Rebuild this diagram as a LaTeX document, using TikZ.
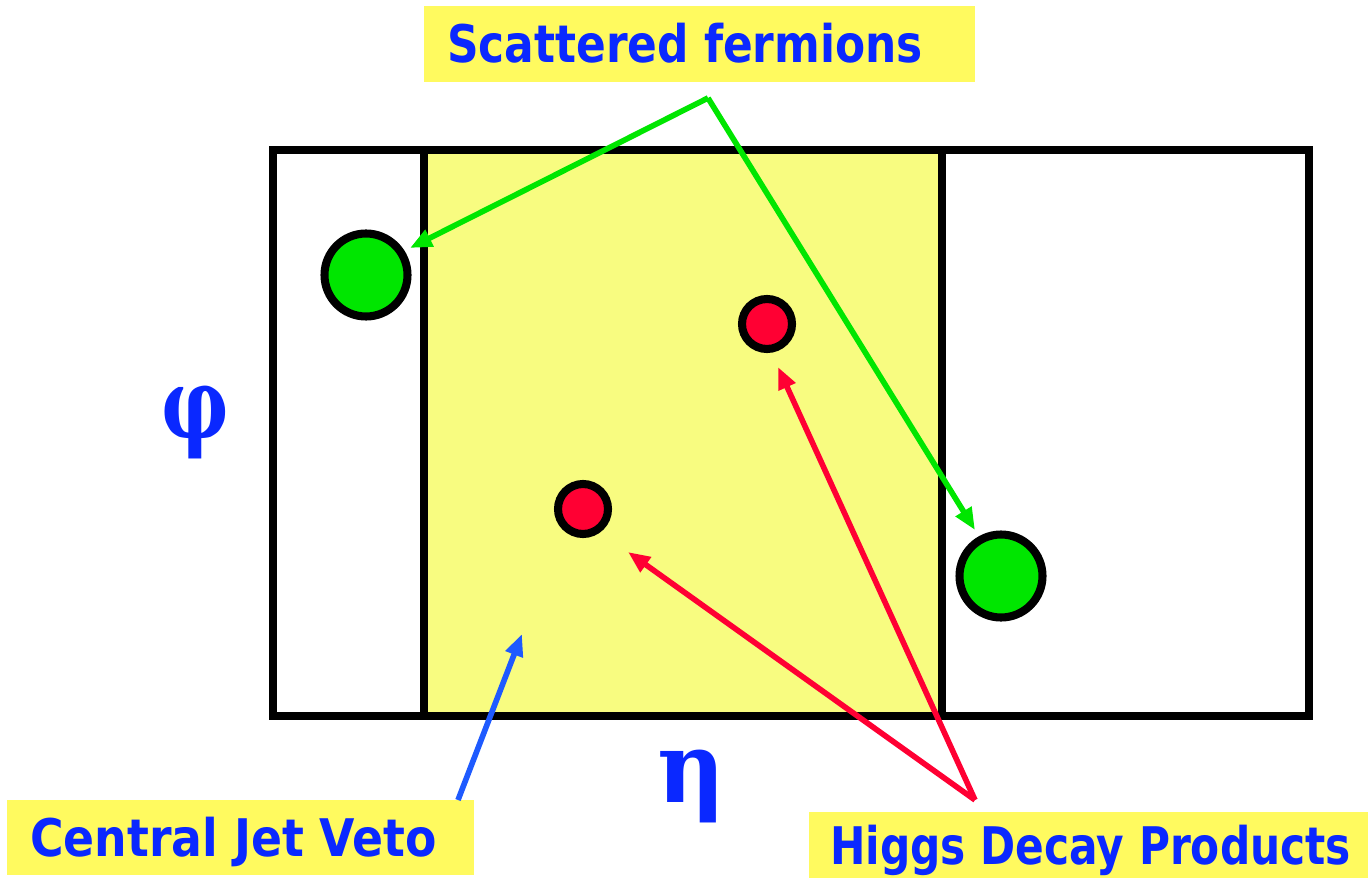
\documentclass[tikz,border=0pt]{standalone}
\usepackage{fontspec}
\setmainfont{DejaVu Sans}
\newfontfamily\lblfont{DejaVu Sans Bold}
\newfontfamily\greekfont{DejaVu Serif Bold}
\usetikzlibrary{arrows.meta,calc}
\definecolor{txtblue}{RGB}{10,40,255}
\definecolor{zoneyellow}{RGB}{248,252,128}
\definecolor{lblyellow}{RGB}{255,250,95}
\definecolor{fgreen}{RGB}{0,230,0}
\definecolor{hred}{RGB}{255,0,51}
\definecolor{arrblue}{RGB}{30,90,255}
\newcommand\fitw[2]{\resizebox{#1}{\height}{#2}}
\tikzset{
  frame/.style={line width=4.5pt, draw=black},
  fermion/.style={circle, draw=black, fill=fgreen, line width=4.6pt, minimum size=1.66cm, inner sep=0pt},
  higgs/.style={circle, draw=black, fill=hred, line width=4.6pt, minimum size=1.0cm, inner sep=0pt},
  lbox/.style={fill=lblyellow, text=txtblue, inner ysep=0pt, text height=0.76cm, text depth=0pt,
    font=\lblfont\fontsize{29.5pt}{32pt}\selectfont},
  glyph/.style={text=txtblue, inner sep=0pt, font=\greekfont\fontsize{56pt}{60pt}\selectfont},
  conn/.style={line width=3.2pt, -{Triangle[length=12.5pt,width=10pt]}},
}
\begin{document}
\begin{tikzpicture}[x=0.02cm,y=-0.02cm]
\useasboundingbox (0,0) rectangle (1368,878);
% zones
\fill[zoneyellow] (424,150) rectangle (942,716);
\draw[frame] (273,150) rectangle (1309,716);
\draw[frame] (424,150) -- (424,716);
\draw[frame] (942,150) -- (942,716);
% particles
\node[fermion] (f1) at (366,275) {};
\node[fermion] (f2) at (1001,576) {};
\node[higgs] (h1) at (767,324) {};
\node[higgs] (h2) at (583,509) {};
% axis labels
\node[glyph] (phi) at (195,422) {\scalebox{0.76}[1]{φ}};
\node[glyph] (eta) at (691,786) {\scalebox{0.95}[1]{η}};
% label boxes
\node[lbox, minimum height=1.52cm, inner xsep=0.46cm] (sf) at (699.5,44)
  {\makebox[10.1cm][l]{\fitw{9.52cm}{Scattered fermions}}};
\node[lbox, minimum height=1.5cm, inner xsep=0.46cm] (cjv) at (240.5,837)
  {\makebox[8.42cm][l]{\fitw{8.14cm}{Central Jet Veto}}};
\node[lbox, minimum height=1.32cm, inner xsep=0.42cm] (hdp) at (1088.5,845)
  {\makebox[10.34cm][l]{\fitw{10.42cm}{Higgs Decay Products}}};
% connectors
\coordinate (gsplit) at (708,98);
\coordinate (rsplit) at (975,800);
\coordinate (cjvfoot) at (458,800);
\coordinate (cjvtip) at (522,634);
\draw[conn, fgreen, line join=miter] (gsplit) -- ($(f1.center)+(44,-27)$);
\draw[conn, fgreen] (gsplit) -- ($(f2.center)+(-26,-46)$);
\draw[conn, hred] (rsplit) -- ($(h2.center)+(45,43)$);
\draw[conn, hred] (rsplit) -- ($(h1.center)+(11,43)$);
\draw[conn, arrblue] (cjvfoot) -- (cjvtip);
\end{tikzpicture}
\end{document}
